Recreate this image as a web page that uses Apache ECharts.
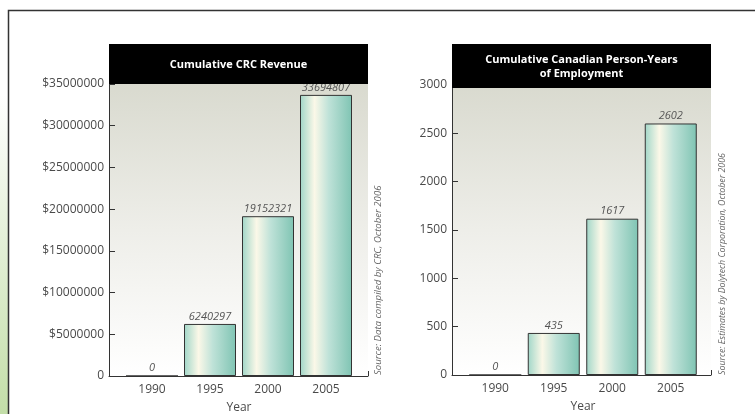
<!DOCTYPE html>
<html>
<head>
<meta charset="utf-8">
<script src="https://cdn.jsdelivr.net/npm/echarts@6/dist/echarts.min.js"></script>
<style>html,body{margin:0;padding:0;background:#fff;}#c{width:755px;height:414px;}</style>
</head>
<body>
<div id="c"></div>
<script>
const years = ['1990', '1995', '2000', '2005'];
const revenue = [0, 6240297, 19152321, 33694807];
const employment = [0, 435, 1617, 2602];
const revenueTicks = { min: 0, max: 35000000, interval: 5000000 };
const employmentTicks = { min: 0, max: 3000, interval: 500 };
const titleLeft = 'Cumulative CRC Revenue';
const titleRight = 'Cumulative Canadian Person-Years\nof Employment';
const sourceLeft = 'Source: Data compiled by CRC, October 2006';
const sourceRight = 'Source: Estimates by Dolytech Corporation, October 2006';

const FONT = '"Open Sans", sans-serif';
const chart = echarts.init(document.getElementById('c'));

const bgGrad = new echarts.graphic.LinearGradient(0, 0, 0, 1, [
  { offset: 0, color: '#d9dacf' },
  { offset: 0.5, color: '#eeeee9' },
  { offset: 1, color: '#ffffff' }
]);
const barGrad = new echarts.graphic.LinearGradient(0, 0, 1, 0, [
  { offset: 0, color: '#a0d6c8' },
  { offset: 0.28, color: '#fbf8e8' },
  { offset: 0.55, color: '#bfe2d8' },
  { offset: 1, color: '#7fc4b3' }
]);

function bgY(idx, ticks, fmt) {
  return {
    gridIndex: idx, type: 'value', min: ticks.min, max: ticks.max, interval: ticks.interval,
    axisLine: { show: true, lineStyle: { color: '#333', width: 1 } },
    axisTick: { show: true, inside: true, length: 6, lineStyle: { color: '#333' } },
    axisLabel: { color: '#4a4a4a', fontSize: 12, fontFamily: FONT, margin: 5, formatter: fmt },
    splitLine: { show: false }
  };
}
function bgX(idx) {
  return {
    gridIndex: idx, type: 'value', min: 0, max: 1, interval: 1,
    axisLine: { show: true, lineStyle: { color: '#333', width: 1 } },
    axisTick: { show: true, inside: true, length: 5, lineStyle: { color: '#333' } },
    axisLabel: { show: false }, splitLine: { show: false }
  };
}
function barX(idx) {
  return {
    gridIndex: idx, type: 'category', data: years,
    axisLine: { show: false }, axisTick: { show: false },
    axisLabel: { color: '#4a4a4a', fontSize: 12, fontFamily: FONT, margin: 8 },
    name: 'Year', nameLocation: 'middle', nameGap: 26,
    nameTextStyle: { color: '#4a4a4a', fontSize: 12, fontFamily: FONT }
  };
}
function barY(idx, ticks) {
  return { gridIndex: idx, type: 'value', min: ticks.min, max: ticks.max, show: false, splitLine: { show: false } };
}
function barSeries(xi, data) {
  return {
    type: 'bar', xAxisIndex: xi, yAxisIndex: xi, data: data, barWidth: 52,
    itemStyle: { color: barGrad, borderColor: '#333', borderWidth: 1 },
    label: { show: true, position: 'top', distance: 2, color: '#555', fontSize: 11, lineHeight: 11,
      fontStyle: 'italic', fontFamily: FONT },
    z: 3
  };
}
const gridBase = { outerBoundsMode: 'none', containLabel: false };

chart.setOption({
  animation: false,
  grid: [
    Object.assign({ left: 109, top: 84, width: 259, height: 292, show: true, backgroundColor: bgGrad, borderWidth: 0 }, gridBase),
    Object.assign({ left: 123, top: 84, width: 232, height: 292 }, gridBase),
    Object.assign({ left: 452, top: 85, width: 259, height: 290, show: true, backgroundColor: bgGrad, borderWidth: 0 }, gridBase),
    Object.assign({ left: 466, top: 85, width: 234, height: 290 }, gridBase)
  ],
  xAxis: [bgX(0), barX(1), bgX(2), barX(3)],
  yAxis: [
    bgY(0, revenueTicks, v => v === 0 ? '0' : '$' + v),
    barY(1, revenueTicks),
    bgY(2, employmentTicks, v => String(v)),
    barY(3, employmentTicks)
  ],
  series: [barSeries(1, revenue), barSeries(3, employment)],
  graphic: [
    { type: 'rect', z: 0, shape: { x: 0, y: 95, width: 8, height: 319 },
      style: { fill: new echarts.graphic.LinearGradient(0, 0, 0, 1, [{ offset: 0, color: '#ffffff' }, { offset: 1, color: '#c3dea8' }]) } },
    { type: 'rect', z: 1, shape: { x: 8.5, y: 10.5, width: 800, height: 500 },
      style: { fill: 'none', stroke: '#333', lineWidth: 1.5 } },
    { type: 'rect', z: 20, shape: { x: 109, y: 44, width: 259, height: 40 }, style: { fill: '#000' } },
    { type: 'text', z: 21, x: 238.5, y: 65,
      style: { text: titleLeft, fill: '#fff', font: 'bold 11px ' + FONT, textAlign: 'center', textVerticalAlign: 'middle' } },
    { type: 'rect', z: 20, shape: { x: 452, y: 44, width: 259, height: 44 }, style: { fill: '#000' } },
    { type: 'text', z: 21, x: 581.5, y: 67,
      style: { text: titleRight, fill: '#fff', font: 'bold 11px ' + FONT, textAlign: 'center', textVerticalAlign: 'middle', lineHeight: 14 } },
    { type: 'text', z: 21, x: 378, y: 375, rotation: Math.PI / 2,
      style: { text: sourceLeft, fill: '#666', font: 'italic 9.6px ' + FONT, textAlign: 'left', textVerticalAlign: 'middle' } },
    { type: 'text', z: 21, x: 722, y: 375, rotation: Math.PI / 2,
      style: { text: sourceRight, fill: '#666', font: 'italic 8.8px ' + FONT, textAlign: 'left', textVerticalAlign: 'middle' } }
  ]
});
</script>
</body>
</html>
